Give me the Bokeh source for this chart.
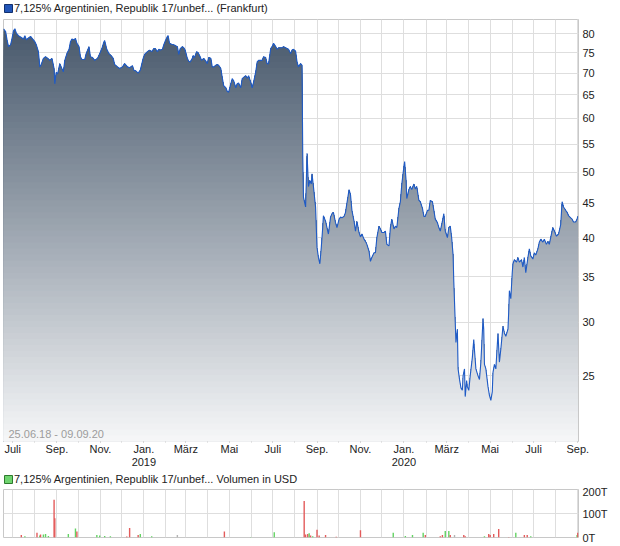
import numpy as np
import pandas as pd
from bokeh.plotting import figure
from bokeh.layouts import column
from bokeh.models import Range1d, FixedTicker, Label, Legend, LegendItem
from bokeh.embed import file_html
from bokeh.resources import INLINE

# ---------------- data ----------------
START = pd.Timestamp("2018-06-18")   # first sample of the drawn series
RANGE_DAYS = 807                     # width of the time window in days

# (day offset from START, price in %)
price_seg_2018 = [
    (0, 81.4), (3, 80.6), (5, 78.4), (7, 76.6), (10, 77.1), (12, 78.8), (14, 80.8), (16, 81.4),
    (18, 80.2), (21, 79.5), (25, 79.0), (28, 78.6), (30, 79.5), (32, 78.4), (36, 79.0), (38, 79.3),
    (41, 78.6), (44, 77.9), (46, 77.1), (49, 75.3), (51, 71.5), (53, 72.1), (56, 73.6), (59, 74.0),
    (62, 73.6), (65, 73.1), (68, 73.6), (71, 71.1), (72, 67.5), (74, 70.2), (76, 69.8), (79, 72.3),
    (81, 71.5), (84, 70.3), (86, 73.1), (89, 74.8), (92, 75.9), (94, 77.9), (96, 78.6), (99, 78.4),
    (101, 78.8), (103, 77.5), (106, 76.6), (108, 74.0), (110, 73.3), (114, 73.3), (116, 74.8),
    (120, 76.6), (122, 74.0), (125, 73.8), (128, 73.1), (132, 73.6), (135, 74.8), (138, 76.1),
    (141, 77.9), (142, 78.2), (145, 75.9), (148, 74.8), (151, 74.3), (154, 73.6), (156, 72.1),
    (160, 71.5), (163, 71.1), (167, 71.5), (170, 72.3), (174, 71.5), (177, 71.3), (181, 71.8),
    (183, 70.7), (186, 70.5), (189, 70.0), (192, 70.7), (196, 73.6), (198, 74.6), (202, 75.3),
    (205, 75.7), (208, 75.3), (211, 76.1),
]
price_seg_2019 = [
    (213, 76.1), (216, 75.3), (218, 75.9), (220, 75.7), (223, 75.9), (225, 77.1), (227, 78.1),
    (230, 79.3), (231, 79.5), (233, 77.5), (236, 77.2), (239, 77.1), (241, 76.9), (244, 76.6),
    (246, 74.6), (248, 76.1), (251, 76.6), (253, 76.3), (255, 75.7), (258, 73.6), (260, 72.9),
    (262, 72.7), (265, 73.6), (266, 74.3), (268, 73.8), (271, 75.3), (273, 75.1), (276, 74.0),
    (278, 73.1), (281, 73.6), (284, 72.9), (286, 72.3), (288, 73.8), (291, 73.6), (293, 71.5),
    (295, 71.5), (298, 71.9), (300, 72.1), (302, 71.9), (305, 71.1), (307, 69.0), (309, 67.1),
    (312, 66.6), (314, 65.8), (316, 65.6), (319, 67.5), (321, 68.7), (323, 68.2), (326, 66.6),
    (328, 67.5), (330, 67.7), (333, 66.6), (335, 68.7), (337, 69.0), (340, 69.4), (342, 68.8),
    (344, 69.4), (347, 67.9), (349, 66.6), (351, 67.9), (354, 70.3), (356, 72.7), (358, 73.1),
    (361, 73.1), (363, 73.1), (365, 74.0), (368, 73.8), (370, 72.3), (372, 72.3), (375, 76.1),
    (377, 76.6), (379, 77.5), (382, 76.6), (384, 75.9), (386, 76.3), (389, 76.3), (391, 76.3),
    (393, 76.6), (396, 76.3), (398, 76.1), (400, 75.9), (403, 74.8), (405, 75.7), (407, 75.9),
    (410, 75.4), (412, 72.7), (414, 71.5), (417, 72.3), (419, 71.9),
]
price_seg_2020 = [
    (420, 53.0), (421, 45.9), (424, 44.4), (425, 48.6), (426, 53.3), (428, 47.6), (430, 48.6),
    (432, 48.0), (433, 49.7), (435, 47.6), (438, 44.4), (440, 38.7), (442, 37.4), (444, 36.6),
    (446, 38.7), (448, 41.4), (449, 43.1), (452, 42.3), (454, 41.4), (456, 40.5), (459, 42.9),
    (461, 43.4), (463, 43.6), (466, 42.1), (468, 41.4), (471, 42.6), (473, 42.9), (475, 42.8),
    (478, 43.0), (480, 43.6), (482, 45.0), (485, 47.1), (487, 46.3), (489, 43.9), (492, 42.3),
    (494, 40.9), (496, 42.3), (499, 40.7), (501, 40.1), (503, 40.5), (506, 39.8), (508, 39.5),
    (510, 39.1), (513, 38.2), (515, 36.9), (517, 37.4), (520, 38.0), (522, 38.0), (524, 40.0),
    (527, 41.6), (529, 41.2), (531, 40.7), (534, 40.7), (536, 40.9), (538, 39.1), (541, 38.9),
    (543, 41.4), (545, 42.6), (548, 41.2), (550, 41.6), (552, 41.4), (555, 44.2), (557, 45.2),
    (559, 48.0), (562, 51.0), (563, 51.8), (565, 48.6), (566, 45.7), (569, 47.1), (571, 47.6),
    (573, 47.1), (576, 48.0), (578, 47.2), (580, 47.6), (583, 45.4), (585, 45.2), (588, 44.2),
    (590, 43.0), (592, 43.0), (595, 43.9), (597, 43.9), (599, 45.4), (602, 45.2), (604, 43.9),
    (606, 42.6), (609, 42.1), (611, 41.4), (613, 40.9), (616, 42.3), (618, 43.4), (620, 40.9),
    (623, 40.0), (625, 41.4), (627, 41.6), (629, 40.0), (631, 37.7), (632, 34.4), (634, 30.0),
    (635, 28.0), (637, 29.3), (638, 25.6), (640, 24.7), (642, 24.0), (644, 23.8), (645, 25.0),
    (647, 25.6), (648, 23.3), (650, 24.6), (651, 24.1), (653, 23.8), (655, 25.0), (658, 26.6),
    (660, 28.3), (661, 27.3), (663, 25.6), (666, 25.0), (668, 24.7), (670, 26.2), (673, 30.4),
    (674, 29.3), (675, 26.0), (677, 25.6), (680, 24.1), (682, 23.4), (684, 23.0), (686, 23.7),
    (687, 25.3), (689, 26.0), (691, 25.6), (694, 28.9), (696, 26.2), (698, 27.4), (701, 29.6),
    (703, 28.9), (705, 28.6), (708, 29.3), (709, 31.0), (710, 33.4), (712, 32.5), (714, 35.5),
    (715, 36.6), (717, 37.1), (720, 36.8), (722, 37.4), (724, 36.8), (727, 37.1), (729, 36.2),
    (731, 37.4), (733, 35.5), (736, 37.4), (738, 38.5), (740, 37.6), (743, 37.2), (745, 38.0),
    (747, 37.7), (750, 38.5), (752, 39.4), (754, 39.8), (757, 39.4), (759, 39.8), (762, 39.1),
    (764, 39.5), (766, 39.1), (769, 40.5), (771, 41.4), (774, 40.7), (776, 40.2), (779, 40.5),
    (782, 41.8), (784, 45.2), (786, 44.4), (789, 43.9), (791, 43.6), (793, 43.1), (796, 42.8),
    (798, 42.6), (800, 42.2), (803, 42.2), (805, 42.6), (806, 43.0),
]

# volume: (day offset, thousand USD, direction d=down u=up f=flat)
volume_points = [
    (25, 10, "d"), (30, 5, "u"), (47, 20, "d"), (51, 8, "u"), (52, 12, "d"), (56, 12, "u"),
    (59, 15, "u"), (63, 6, "u"), (71, 157, "d"), (72, 80, "d"), (91, 15, "u"), (101, 38, "u"),
    (103, 25, "d"), (131, 10, "u"), (135, 8, "u"), (142, 6, "u"), (150, 5, "u"), (173, 4, "d"),
    (177, 40, "d"), (189, 10, "d"), (192, 15, "u"), (208, 5, "u"), (244, 10, "f"), (310, 25, "d"),
    (347, 2, "u"), (380, 22, "u"), (422, 152, "d"), (424, 12, "d"), (427, 15, "d"), (429, 18, "u"),
    (431, 8, "d"), (434, 5, "u"), (440, 32, "d"), (443, 8, "d"), (452, 10, "d"), (467, 3, "d"),
    (501, 30, "d"), (547, 20, "u"), (564, 6, "u"), (574, 10, "u"), (589, 20, "u"), (592, 10, "d"),
    (613, 5, "d"), (616, 10, "d"), (620, 27, "u"), (625, 27, "u"), (627, 10, "d"), (633, 10, "f"),
    (646, 10, "d"), (648, 5, "d"), (675, 5, "u"), (681, 15, "d"), (683, 10, "d"), (688, 15, "d"),
    (695, 35, "d"), (709, 2, "d"), (719, 20, "u"), (731, 10, "d"), (735, 10, "d"), (740, 5, "u"),
    (805, 10, "u"), (806, 20, "d"),
]

y_ticks = [25, 30, 35, 40, 45, 50, 55, 60, 65, 70, 75, 80]
vol_ticks = [0, 100, 200]
vol_tick_labels = ["0T", "100T", "200T"]
month_labels = {7: "Juli", 9: "Sep.", 11: "Nov.", 1: "Jan.", 3: "März", 5: "Mai"}
title_price = "7,125% Argentinien, Republik 17/unbef... (Frankfurt)"
title_volume = "7,125% Argentinien, Republik 17/unbef... Volumen in USD"
period_text = "25.06.18 - 09.09.20"

# ---------------- derived ----------------
pts = price_seg_2018 + price_seg_2019 + price_seg_2020
p_dates = START + pd.to_timedelta([d for d, _ in pts], unit="D")
p_vals = np.array([v for _, v in pts], dtype=float)

v_dates = START + pd.to_timedelta([d for d, _, _ in volume_points], unit="D")
v_vals = [v for _, v, _ in volume_points]
dir_color = {"d": "#e35b5b", "u": "#63d363", "f": "#b4b4b4"}
v_cols = [dir_color[c] for _, _, c in volume_points]

x_start = START
x_end = START + pd.Timedelta(days=RANGE_DAYS)
YMIN, YMAX = 20, 84
VMAX = 200

FONT = "Liberation Sans"
GRID = "#dedede"
OUTLINE = "#c8c8c8"
TEXT = "#222222"
FRAME_W = 575
BORDER_L = 3
BORDER_R = 36

months = pd.date_range("2018-07-01", "2020-09-01", freq="MS")
to_ms = lambda t: int(t.value // 10**6)
all_ms = [to_ms(t) for t in months]
major = [t for t in months if t.month in month_labels]
major_ms = [to_ms(t) for t in major]
x_overrides = {}
for t in major:
    lab = month_labels[t.month]
    if t.month == 1:
        lab += "\n" + str(t.year)
    x_overrides[to_ms(t)] = lab


def header_fig(text, fill, line, height, lift):
    h = figure(frame_width=FRAME_W, frame_height=height, x_range=Range1d(0, 1),
               y_range=Range1d(0, 1), x_axis_location=None, y_axis_location=None,
               toolbar_location=None, output_backend="svg",
               min_border_left=BORDER_L, min_border_right=BORDER_R,
               min_border_top=0, min_border_bottom=0)
    h.grid.visible = False
    h.outline_line_color = None
    h.border_fill_color = "white"
    h.background_fill_color = "white"
    dummy = h.quad(left=[np.nan], right=[np.nan], bottom=[np.nan], top=[np.nan],
                   fill_color=fill, line_color=line, line_width=1)
    leg = Legend(items=[LegendItem(label=text, renderers=[dummy])],
                 location=(0, lift), orientation="horizontal",
                 border_line_color=None, background_fill_alpha=0,
                 padding=0, margin=0, spacing=0, glyph_width=10, glyph_height=10,
                 label_standoff=1, label_height=12,
                 label_text_font=FONT, label_text_font_size="11px",
                 label_text_color=TEXT)
    h.add_layout(leg, "center")
    return h


def style_right_axis(fig, ticks, overrides):
    fig.yaxis.ticker = FixedTicker(ticks=ticks)
    fig.yaxis.major_label_overrides = overrides
    fig.yaxis.axis_line_color = None
    fig.yaxis.major_tick_line_color = None
    fig.yaxis.minor_tick_line_color = None
    fig.yaxis.major_tick_out = 0
    fig.yaxis.major_label_standoff = 4
    fig.yaxis.major_label_text_font = FONT
    fig.yaxis.major_label_text_font_size = "11px"
    fig.yaxis.major_label_text_color = TEXT
    fig.ygrid.grid_line_color = GRID


# ---------------- price chart ----------------
p = figure(frame_width=FRAME_W, frame_height=422, x_axis_type="datetime", y_axis_type="log",
           x_range=Range1d(x_start, x_end), y_range=Range1d(YMIN, YMAX),
           y_axis_location="right", toolbar_location=None, output_backend="svg",
           min_border_left=BORDER_L, min_border_right=BORDER_R,
           min_border_top=0, min_border_bottom=28)
p.outline_line_color = OUTLINE
p.background_fill_color = "white"
p.border_fill_color = "white"

top_rgb = np.array([0x44, 0x55, 0x69], dtype=float)
bot_rgb = np.array([0xf6, 0xf7, 0xf8], dtype=float)
n_bands = 70
edges = np.geomspace(YMIN, YMAX, n_bands + 1)
for k in range(n_bands - 1, -1, -1):
    f = (k + 0.5) / n_bands
    rgb = bot_rgb + (top_rgb - bot_rgb) * f
    col = "#%02x%02x%02x" % tuple(int(round(c)) for c in rgb)
    p.varea(x=p_dates, y1=YMIN, y2=np.minimum(p_vals, edges[k + 1]),
            fill_color=col, fill_alpha=1.0)

p.line(p_dates, p_vals, line_color="#1f5bc6", line_width=1.1)

p.add_layout(Label(x=x_start, y=YMIN, x_offset=5, y_offset=2, text=period_text,
                   text_font=FONT, text_font_size="11px", text_color="#9c9c9c"))

p.xaxis.ticker = FixedTicker(ticks=major_ms, minor_ticks=all_ms)
p.xaxis.major_label_overrides = x_overrides
p.xaxis.axis_line_color = None
p.xaxis.major_tick_line_color = "#cccccc"
p.xaxis.major_tick_in = 0
p.xaxis.major_tick_out = 1
p.xaxis.minor_tick_line_color = "#cccccc"
p.xaxis.minor_tick_in = 0
p.xaxis.minor_tick_out = 1
p.xaxis.major_label_standoff = 0
p.xaxis.major_label_text_line_height = 1.15
p.xaxis.major_label_text_font = FONT
p.xaxis.major_label_text_font_size = "11px"
p.xaxis.major_label_text_color = TEXT
p.xgrid.grid_line_color = GRID
p.xgrid.minor_grid_line_color = GRID

style_right_axis(p, y_ticks, {t: str(t) for t in y_ticks})

# ---------------- volume chart ----------------
v = figure(frame_width=FRAME_W, frame_height=48, x_axis_type="datetime", x_range=p.x_range,
           y_range=Range1d(0, VMAX), y_axis_location="right",
           toolbar_location=None, output_backend="svg",
           min_border_left=BORDER_L, min_border_right=BORDER_R,
           min_border_top=4, min_border_bottom=6)
v.outline_line_color = OUTLINE
v.border_fill_color = "white"
v.xaxis.visible = False
v.xgrid.ticker = FixedTicker(ticks=all_ms)
v.xgrid.grid_line_color = GRID

v.segment(x0=v_dates, y0=0, x1=v_dates, y1=v_vals, line_color=v_cols, line_width=1.4)
style_right_axis(v, vol_ticks, dict(zip(vol_ticks, vol_tick_labels)))

h_price = header_fig(title_price, "#2256b8", "#12306e", 19, 5)
h_vol = header_fig(title_volume, "#6fd46f", "#2e7a2e", 14, 0)

layout = column(h_price, p, h_vol, v, spacing=0)
open("out.html", "w").write(file_html(layout, INLINE))
